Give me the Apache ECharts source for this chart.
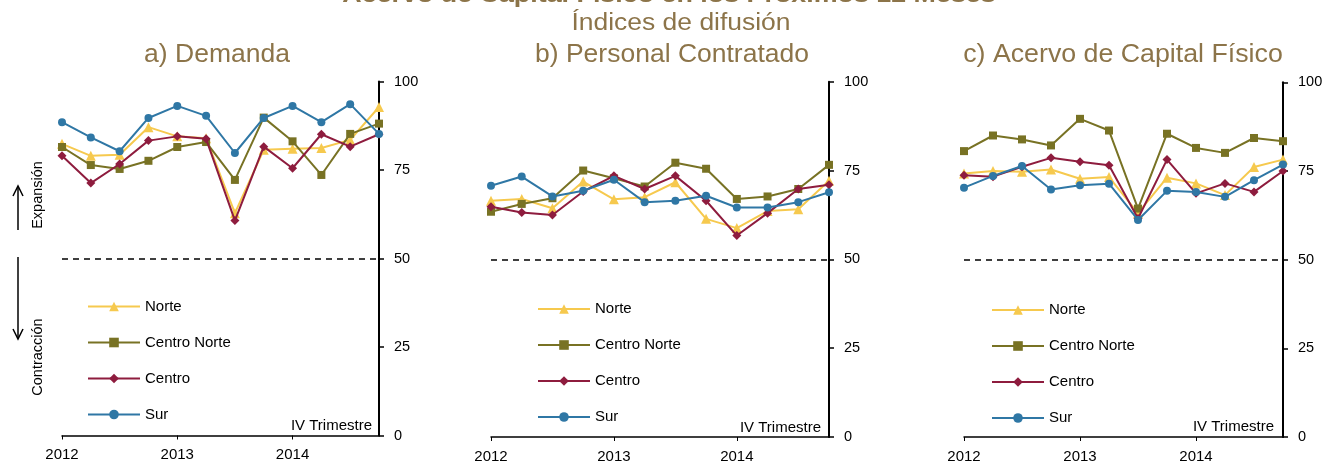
<!DOCTYPE html>
<html>
<head>
<meta charset="utf-8">
<script src="https://cdn.jsdelivr.net/npm/echarts@6/dist/echarts.min.js"></script>
<style>
  html, body { margin: 0; padding: 0; background: #fff; }
  #main { width: 1327px; height: 464px; }
</style>
</head>
<body>
<div id="main"></div>
<script>
// trimestres 2012 I - 2014 IV
var trimestres = ['2012 I', '2012 II', '2012 III', '2012 IV',
                  '2013 I', '2013 II', '2013 III', '2013 IV',
                  '2014 I', '2014 II', '2014 III', '2014 IV'];
var regiones = ['Norte', 'Centro Norte', 'Centro', 'Sur'];
var ticksY = [0, 25, 50, 75, 100];

// a) Demanda
var demandaNorte       = [82.4, 79.0, 79.3, 87.1, 84.5, 84.0, 62.8, 80.7, 81.0, 81.2, 83.5, 92.8];
var demandaCentroNorte = [81.5, 76.4, 75.3, 77.6, 81.5, 82.9, 72.2, 89.8, 83.1, 73.6, 85.2, 88.1];
var demandaCentro      = [79.0, 71.3, 76.7, 83.3, 84.5, 83.8, 60.7, 81.6, 75.5, 85.1, 81.6, 85.1];
var demandaSur         = [88.5, 84.2, 80.3, 89.7, 93.1, 90.3, 79.8, 89.7, 93.1, 88.5, 93.6, 85.2];

// b) Personal Contratado
var personalNorte       = [66.5, 67.0, 64.4, 71.9, 66.9, 67.5, 71.7, 61.4, 58.8, 63.6, 64.1, 72.1];
var personalCentroNorte = [63.4, 65.6, 67.2, 75.0, 72.8, 70.5, 77.2, 75.5, 67.0, 67.7, 69.8, 76.6];
var personalCentro      = [64.8, 63.2, 62.5, 69.1, 73.5, 69.8, 73.5, 66.5, 56.7, 63.0, 69.8, 71.0];
var personalSur         = [70.7, 73.3, 67.7, 69.3, 72.4, 66.1, 66.5, 67.9, 64.6, 64.6, 66.1, 68.9];

// c) Acervo de Capital Fisico
var acervoNorte       = [74.3, 75.0, 74.8, 75.4, 72.8, 73.3, 63.1, 73.1, 71.5, 68.2, 76.1, 78.2];
var acervoCentroNorte = [80.6, 85.0, 83.9, 82.2, 89.7, 86.4, 64.4, 85.5, 81.5, 80.1, 84.3, 83.4];
var acervoCentro      = [73.8, 73.4, 76.2, 78.7, 77.6, 76.6, 61.6, 78.2, 68.7, 71.5, 69.1, 75.0];
var acervoSur         = [70.3, 73.6, 76.4, 69.8, 71.0, 71.4, 61.2, 69.4, 69.1, 67.7, 72.4, 76.8];

var colores = ['#F6C94E', '#787224', '#8E1C3E', '#2F77A5'];
var simbolos = ['triangle', 'rect', 'diamond', 'circle'];
var tamanos = [10, 8, 9, 8];
var fuente = 'Liberation Sans, Arial, sans-serif';
var cafe = '#8C7449';

var myChart = echarts.init(document.getElementById('main'));

// posiciones de los paneles
var paneles = [
    { left: 62,  width: 317, top: 81.5, height: 354, datos: [demandaNorte, demandaCentroNorte, demandaCentro, demandaSur], legX: 87, legY: 299 },
    { left: 491, width: 338, top: 81.7, height: 355.6, datos: [personalNorte, personalCentroNorte, personalCentro, personalSur], legX: 537, legY: 301.5 },
    { left: 964, width: 319, top: 82.3, height: 357, datos: [acervoNorte, acervoCentroNorte, acervoCentro, acervoSur], legX: 991, legY: 302.5 }
];

var grids = [], xAxes = [], yAxes = [], series = [], legends = [];

paneles.forEach(function (p, k) {
    grids.push({ left: p.left, width: p.width, top: p.top, height: p.height });
    xAxes.push({
        type: 'category',
        gridIndex: k,
        data: trimestres,
        boundaryGap: false,
        axisLine: { lineStyle: { color: '#000', width: 1.5 } },
        axisTick: { interval: 3, length: 4, lineStyle: { color: '#000' } },
        axisLabel: {
            interval: 3, color: '#000', fontSize: 15, fontFamily: fuente, margin: 12,
            formatter: function (v) { return v.slice(0, 4); }
        },
        splitLine: { show: false }
    });
    yAxes.push({
        type: 'value',
        gridIndex: k,
        position: 'right',
        min: ticksY[0],
        max: ticksY[ticksY.length - 1],
        interval: 25,
        axisLine: { show: true, lineStyle: { color: '#000', width: 2 } },
        axisTick: { show: true, length: 5, lineStyle: { color: '#000', width: 1.5 } },
        axisLabel: { color: '#000', fontSize: 14.5, fontFamily: fuente, margin: 15 },
        splitLine: { show: false }
    });
    regiones.forEach(function (r, i) {
        var s = {
            name: r,
            type: 'line',
            xAxisIndex: k,
            yAxisIndex: k,
            data: p.datos[i],
            symbol: simbolos[i],
            symbolSize: tamanos[i],
            showSymbol: true,
            color: colores[i],
            lineStyle: { color: colores[i], width: 2 },
            itemStyle: { color: colores[i] },
            z: 3 + i,
            animation: false
        };
        if (i == 0) {
            // linea de 50
            s.markLine = {
                silent: true,
                symbol: 'none',
                label: { show: false },
                lineStyle: { color: '#000', type: [6, 5], width: 1.5 },
                data: [{ yAxis: 50 }]
            };
        }
        series.push(s);
    });
    legends.push({
        orient: 'vertical',
        left: p.legX,
        top: p.legY,
        padding: 0,
        itemWidth: 52,
        itemHeight: 12,
        itemGap: 21,
        textStyle: { color: '#000', fontSize: 15, lineHeight: 15, fontFamily: fuente },
        data: regiones
    });
});

// textos con escala horizontal
function texto(t, x, y, size, color, peso, sx) {
    return {
        type: 'text', x: x, y: y, scaleX: sx, z: 10,
        style: { text: t, fill: color, font: peso + ' ' + size + 'px ' + fuente, textAlign: 'center', textVerticalAlign: 'middle' }
    };
}

var option = {
    backgroundColor: '#fff',
    legend: legends,
    grid: grids,
    xAxis: xAxes,
    yAxis: yAxes,
    series: series,
    graphic: [
        texto('Acervo de Capital Físico en los Próximos 12 Meses', 669, -4.5, 22, cafe, 'bold', 1.22),
        texto('Índices de difusión', 681, 24, 23, cafe, 'normal', 1.15),
        texto('a) Demanda', 217, 55, 25, cafe, 'normal', 1.06),
        texto('b) Personal Contratado', 672, 55, 25, cafe, 'normal', 1.06),
        texto('c) Acervo de Capital Físico', 1123, 55, 25, cafe, 'normal', 1.07),
        { type: 'text', x: 38, y: 195, rotation: Math.PI / 2,
          style: { text: 'Expansión', fill: '#000', font: '14.5px ' + fuente, textAlign: 'center', textVerticalAlign: 'middle' } },
        { type: 'text', x: 38, y: 357, rotation: Math.PI / 2,
          style: { text: 'Contracción', fill: '#000', font: '14.5px ' + fuente, textAlign: 'center', textVerticalAlign: 'middle' } },
        { type: 'line', shape: { x1: 18, y1: 230, x2: 18, y2: 187 }, style: { stroke: '#000', lineWidth: 1.5 } },
        { type: 'polyline', shape: { points: [[13, 196], [18, 186], [23, 196]] }, style: { stroke: '#000', lineWidth: 1.5, fill: null } },
        { type: 'line', shape: { x1: 18, y1: 257, x2: 18, y2: 338 }, style: { stroke: '#000', lineWidth: 1.5 } },
        { type: 'polyline', shape: { points: [[13, 329], [18, 339], [23, 329]] }, style: { stroke: '#000', lineWidth: 1.5, fill: null } },
        { type: 'text', x: 372, y: 426,
          style: { text: 'IV Trimestre', fill: '#000', font: '15px ' + fuente, textAlign: 'right', textVerticalAlign: 'middle' } },
        { type: 'text', x: 821, y: 428,
          style: { text: 'IV Trimestre', fill: '#000', font: '15px ' + fuente, textAlign: 'right', textVerticalAlign: 'middle' } },
        { type: 'text', x: 1274, y: 427,
          style: { text: 'IV Trimestre', fill: '#000', font: '15px ' + fuente, textAlign: 'right', textVerticalAlign: 'middle' } }
    ]
};

myChart.setOption(option);
</script>
</body>
</html>
